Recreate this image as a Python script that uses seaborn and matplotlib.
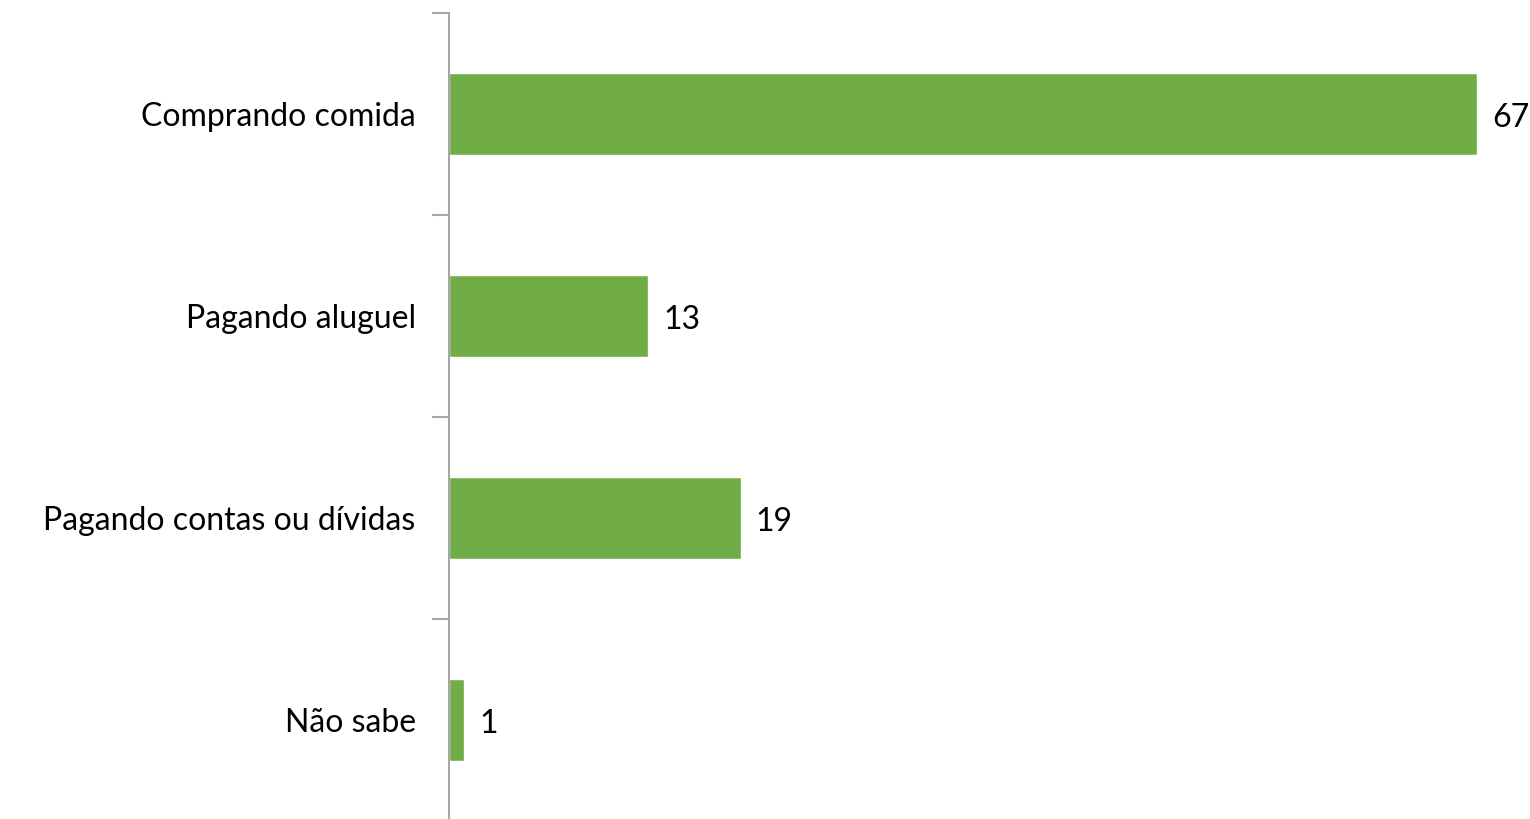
import matplotlib
matplotlib.use("Agg")
import matplotlib.pyplot as plt
import seaborn as sns
import pandas as pd
import numpy as np

categories = ["Comprando comida", "Pagando aluguel", "Pagando contas ou dívidas", "Não sabe"]
values = [67, 13, 19, 1]

df = pd.DataFrame({"categoria": categories, "valor": values})

sns.set_style("white")
plt.rcParams["font.family"] = ["Lato", "DejaVu Sans"]

fig = plt.figure(figsize=(15.3, 8.19), dpi=100)
ax = fig.add_axes([449 / 1530, -2 / 819, (1477 - 449) / 1530, (819 - 13 + 2) / 819])

sns.barplot(data=df, x="valor", y="categoria", color="#70ad47", saturation=1,
            width=0.405, ax=ax)

ax.set_xlim(0, 67)
ax.set_ylim(3.5, -0.5)

for i, v in enumerate(values):
    ax.text(v + 1.0, i + 0.02, str(v), va="center", ha="left", fontsize=23,
            color="black", clip_on=False)

# category axis: ticks between categories, labels centered
ax.set_yticks(np.arange(-0.5, 4.0, 1.0))
ax.set_yticklabels([])
ax.set_yticks(np.arange(len(categories)), minor=True)
ax.set_yticklabels(categories, minor=True, fontsize=23, color="black")
ax.tick_params(axis="y", which="major", length=12, width=1.5, color="#a6a6a6", left=True)
ax.tick_params(axis="y", which="minor", length=0, pad=24)

ax.set_xticks([])
ax.set_xlabel("")
ax.set_ylabel("")
for s in ["top", "right", "bottom"]:
    ax.spines[s].set_visible(False)
ax.spines["left"].set_color("#a6a6a6")
ax.spines["left"].set_linewidth(1.5)

fig.savefig("out.png", dpi=100)
